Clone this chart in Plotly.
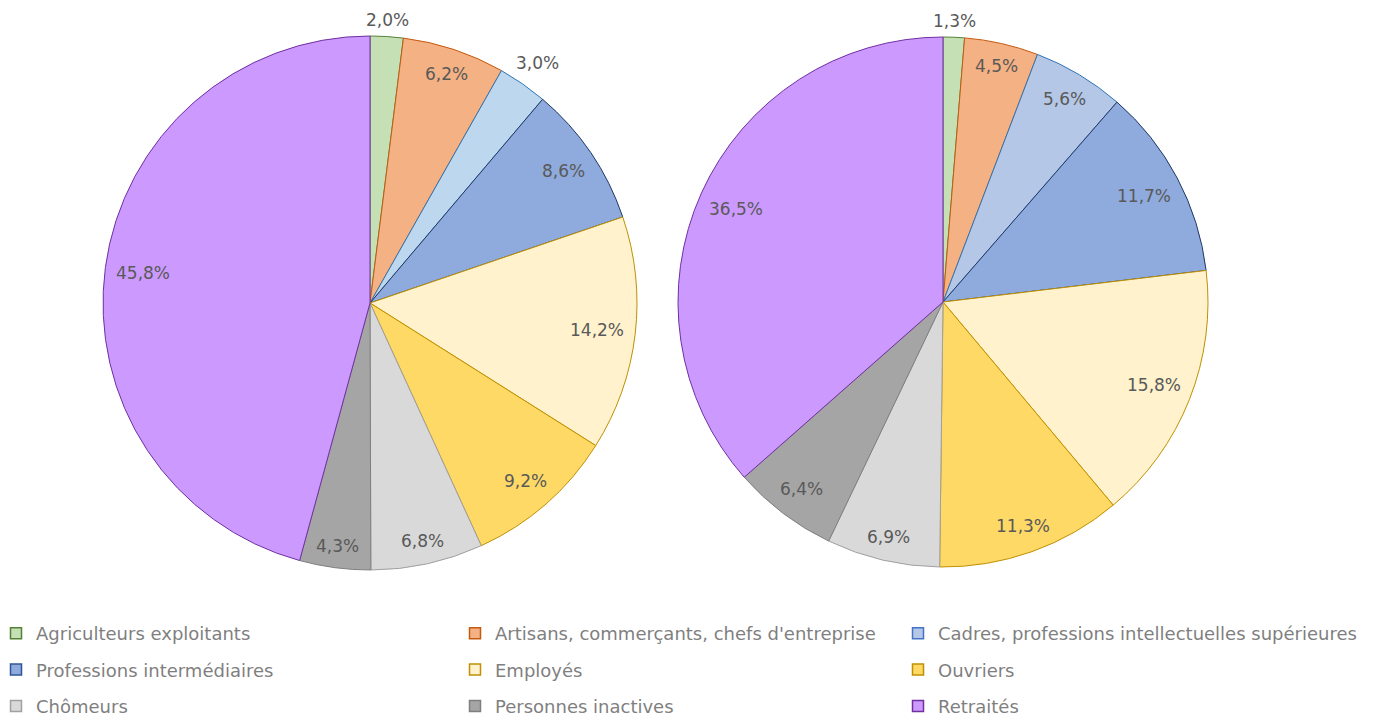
import math
import plotly.graph_objects as go

# Catégories socioprofessionnelles (ordre horaire à partir de midi)
categories = [
    "Agriculteurs exploitants",
    "Artisans, commerçants, chefs d'entreprise",
    "Cadres, professions intellectuelles supérieures",
    "Professions intermédiaires",
    "Employés",
    "Ouvriers",
    "Chômeurs",
    "Personnes inactives",
    "Retraités",
]

# Répartition en % pour chacun des deux camemberts
values_left = [2.0, 6.2, 3.0, 8.6, 14.2, 9.2, 6.8, 4.3, 45.8]
values_right = [1.3, 4.5, 5.6, 11.7, 15.8, 11.3, 6.9, 6.4, 36.5]

# Couleurs de remplissage et de contour
fill_left = ["#C5E0B4", "#F4B183", "#BDD7EE", "#8FAADC", "#FFF2CC",
             "#FFD966", "#D9D9D9", "#A5A5A5", "#CC99FF"]
fill_right = ["#C5E0B4", "#F4B183", "#B4C7E7", "#8FAADC", "#FFF2CC",
              "#FFD966", "#D9D9D9", "#A5A5A5", "#CC99FF"]
edge = ["#548235", "#C55A11", "#2E75B6", "#203864", "#BF9000",
        "#BF9000", "#A0A0A0", "#7F7F7F", "#7030A0"]
legend_fill = ["#C5E0B4", "#F4B183", "#B4C7E7", "#8FAADC", "#FFF2CC",
               "#FFD966", "#D9D9D9", "#A5A5A5", "#CC99FF"]
legend_edge = ["#548235", "#C55A11", "#4472C4", "#2F5597", "#BF9000",
               "#BF9000", "#A0A0A0", "#7F7F7F", "#7030A0"]

# Étiquettes placées hors du secteur (petites parts)
outside_left = [True, False, True, False, False, False, False, False, False]
outside_right = [True, False, False, False, False, False, False, False, False]

FONT = "DejaVu Sans"
LABEL_SIZE = 17
W, H = 1380, 716

# Géométrie des deux disques (centre et rayon, en pixels)
PIES = [
    dict(cx=370, cy=303, r=267),
    dict(cx=943, cy=302, r=265),
]
GAP_IN = 11    # retrait du bord pour les étiquettes intérieures
GAP_OUT = 7    # écart au bord pour les étiquettes extérieures
HALF_H = 8     # demi-hauteur approximative d'une étiquette


def fmt(v):
    return f"{v:.1f}".replace(".", ",") + "%"


def domain_of(g):
    return dict(x=[(g["cx"] - g["r"]) / W, (g["cx"] + g["r"]) / W],
                y=[(H - g["cy"] - g["r"]) / H, (H - g["cy"] + g["r"]) / H])


def labels_for(values, outside, g):
    total = sum(values)
    cum = 0.0
    notes = []
    for v, out in zip(values, outside):
        mid = (cum + v / 2) / total * 2 * math.pi
        cum += v
        txt = fmt(v)
        half_w = 0.31 * LABEL_SIZE * len(txt)
        # étendue de la boîte du texte dans la direction du rayon
        extent = half_w * abs(math.sin(mid)) + HALF_H * abs(math.cos(mid))
        dist = g["r"] + GAP_OUT + extent if out else g["r"] - GAP_IN - extent
        notes.append(dict(
            x=(g["cx"] + dist * math.sin(mid)) / W,
            y=(H - g["cy"] + dist * math.cos(mid)) / H,
            xref="paper", yref="paper", text=txt, showarrow=False,
            xanchor="center", yanchor="middle",
            font=dict(family=FONT, size=LABEL_SIZE, color="#595959"),
        ))
    return notes


def pie(values, fills, g):
    return go.Pie(
        labels=categories,
        values=values,
        text=[fmt(v) for v in values],
        textinfo="none",
        sort=False,
        direction="clockwise",
        rotation=0,
        marker=dict(colors=fills, line=dict(color=edge, width=1)),
        domain=domain_of(g),
        showlegend=False,
        hoverinfo="label+text",
    )


fig = go.Figure()
fig.add_trace(pie(values_left, fill_left, PIES[0]))
fig.add_trace(pie(values_right, fill_right, PIES[1]))

annotations = (labels_for(values_left, outside_left, PIES[0])
               + labels_for(values_right, outside_right, PIES[1]))

# Légende sur trois colonnes : une légende verticale par colonne
legend_names = ["legend", "legend2", "legend3"]
for i, name in enumerate(categories):
    fig.add_trace(go.Scatter(
        x=[None], y=[None], mode="markers", name=name,
        marker=dict(symbol="square", size=11, color=legend_fill[i],
                    line=dict(color=legend_edge[i], width=1.5)),
        legend=legend_names[i % 3], legendgroup=name, showlegend=True,
        hoverinfo="skip",
    ))

legend_common = dict(
    orientation="v", yanchor="top", xanchor="left", y=(H - 615) / H,
    bgcolor="rgba(0,0,0,0)", tracegroupgap=10, itemclick=False,
    font=dict(family=FONT, size=18, color="#7F7F7F"),
)
col_x = [-4, 455, 898]

fig.update_layout(
    width=W, height=H,
    margin=dict(l=0, r=0, t=0, b=0, autoexpand=False),
    paper_bgcolor="white", plot_bgcolor="white",
    xaxis=dict(visible=False), yaxis=dict(visible=False),
    annotations=annotations,
    legend=dict(x=col_x[0] / W, **legend_common),
    legend2=dict(x=col_x[1] / W, **legend_common),
    legend3=dict(x=col_x[2] / W, **legend_common),
)

fig.write_html("out.html")
